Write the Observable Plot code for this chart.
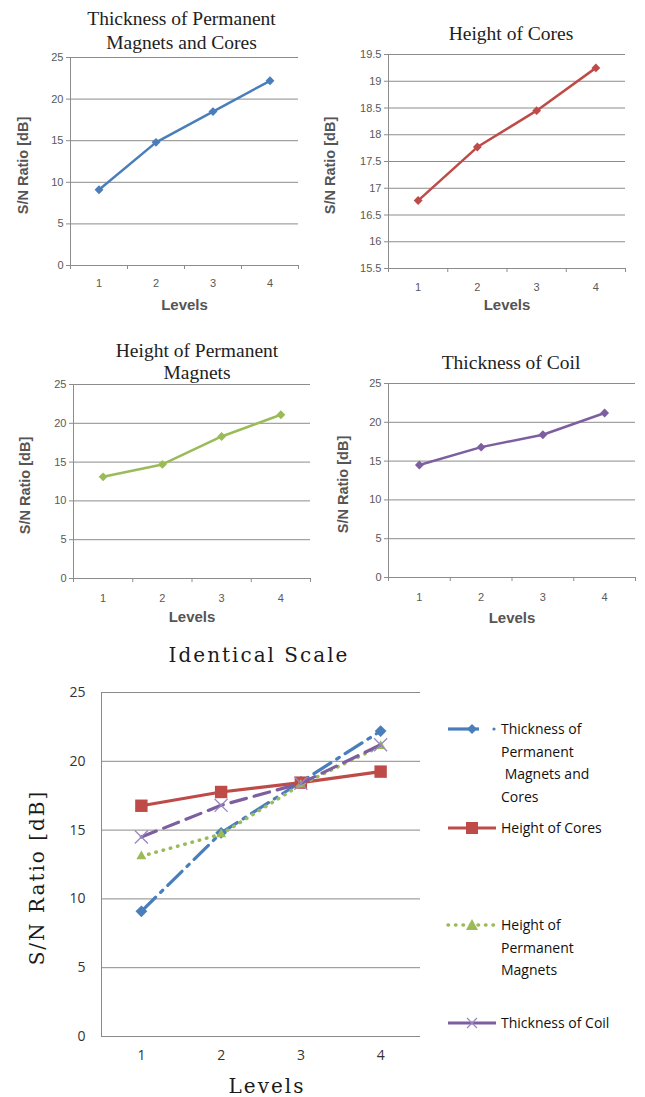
<!DOCTYPE html>
<html><head><meta charset="utf-8">
<script src="https://cdn.jsdelivr.net/npm/d3@7"></script>
<script src="https://cdn.jsdelivr.net/npm/@observablehq/plot@0.6"></script>
<style>
html,body{margin:0;padding:0;background:#fff;}
#page{position:relative;width:645px;height:1097px;overflow:hidden;background:#fff;}
.chart{position:absolute;}
.leg{position:absolute;left:501px;font-family:"Open Sans",sans-serif;font-size:14px;color:#111;line-height:22.5px;white-space:pre;}
.sw{position:absolute;left:446px;}
</style></head><body><div id="page"></div>
<script>
const levels = [1, 2, 3, 4];
const levelBounds = [0.5, 1.5, 2.5, 3.5, 4.5];
const seriesNames = ["Thickness of Permanent Magnets and Cores", "Height of Cores", "Height of Permanent Magnets", "Thickness of Coil"];
const thicknessPMC = [9.1, 14.8, 18.5, 22.2];
const heightCores = [16.77, 17.77, 18.45, 19.25];
const heightPM = [13.1, 14.7, 18.3, 21.1];
const thicknessCoil = [14.5, 16.8, 18.4, 21.2];
const smallTitles = [["Thickness of Permanent", "Magnets and Cores"], ["Height of Cores"], ["Height of Permanent", "Magnets"], ["Thickness of Coil"]];
const ticks025 = [0, 5, 10, 15, 20, 25];
const ticksCores = [15.5, 16, 16.5, 17, 17.5, 18, 18.5, 19, 19.5];
const legendLabels = ["Thickness of\nPermanent\n Magnets and\nCores", "Height of Cores", "Height of\nPermanent\nMagnets", "Thickness of Coil"];
const colors = ["#4A7EBB", "#BE4B48", "#9BBB59", "#7D5FA0"];

const page = document.getElementById("page");
function place(el, left, top) {
  const d = document.createElement("div");
  d.className = "chart";
  d.style.left = left + "px"; d.style.top = top + "px";
  d.appendChild(el); page.appendChild(d);
}
const plain = d => String(d);

function small(values, color, titleLines, yTicks, b) {
  const data = levels.map((l, i) => ({level: l, value: values[i]}));
  const titleMarks = titleLines.map((line, k) =>
    Plot.text([line], {text: d => d, frameAnchor: "top", lineAnchor: "middle", textAnchor: "middle", dx: b.tx, dy: b.td[k],
      fontFamily: "'Liberation Serif', 'Times New Roman', serif", fontSize: 19.5, fill: "#222"}));
  const p = Plot.plot({
    width: b.w, height: b.h,
    marginLeft: b.ml, marginRight: b.mr, marginTop: b.mt, marginBottom: b.mb,
    x: {type: "linear", domain: [0.5, 4.5]},
    y: {domain: [yTicks[0], yTicks[yTicks.length - 1]]},
    style: {background: "transparent", fontFamily: "'Liberation Sans', Arial, sans-serif", fontSize: "11px", color: "#595959", overflow: "visible"},
    marks: [
      Plot.ruleY(yTicks, {stroke: "#8c8c8c", strokeWidth: 1}),
      Plot.ruleX([0.5], {stroke: "#8c8c8c"}),
      Plot.axisY({ticks: yTicks, tickSize: 4, tickPadding: 3, tickFormat: plain, label: null, stroke: "#8c8c8c"}),
      Plot.axisX({ticks: levelBounds, tickSize: 4, tickFormat: () => "", label: null, stroke: "#8c8c8c"}),
      Plot.axisX({ticks: levels, tickSize: 0, tickPadding: b.tp, tickFormat: plain, label: null}),
      Plot.text(["S/N Ratio [dB]"], {text: d => d, frameAnchor: "left", textAnchor: "middle", lineAnchor: "middle", dx: -b.yl, dy: 4, rotate: -90, fontSize: 14.5, fontWeight: "bold", fill: "#555"}),
      Plot.text(["Levels"], {text: d => d, frameAnchor: "bottom", textAnchor: "middle", lineAnchor: "middle", dy: b.xl, fontSize: 15, fontWeight: "bold", fill: "#555"}),
      ...titleMarks,
      Plot.line(data, {x: "level", y: "value", stroke: color, strokeWidth: 2.5}),
      Plot.dot(data, {x: "level", y: "value", symbol: "diamond2", fill: color, r: 4})
    ]
  });
  place(p, b.left, b.top);
}

small(thicknessPMC, colors[0], smallTitles[0], ticks025,
  {left: 0, top: 0, w: 320, h: 320, ml: 70, mr: 22, mt: 57, mb: 55, tp: 14, yl: 47, xl: 40, tx: -3, td: [-39, -15]});
small(heightCores, colors[1], smallTitles[1], ticksCores,
  {left: 320, top: 0, w: 325, h: 320, ml: 68, mr: 20, mt: 54, mb: 52, tp: 15, yl: 58, xl: 37, tx: 4, td: [-21]});
small(heightPM, colors[2], smallTitles[2], ticks025,
  {left: 0, top: 330, w: 320, h: 300, ml: 73, mr: 10, mt: 54, mb: 52, tp: 16, yl: 48, xl: 39, tx: 5, td: [-34, -12]});
small(thicknessCoil, colors[3], smallTitles[3], ticks025,
  {left: 320, top: 330, w: 325, h: 300, ml: 68, mr: 10, mt: 53, mb: 53, tp: 16, yl: 45, xl: 41, tx: -1, td: [-21]});

// combined chart
const seriesValues = [thicknessPMC, heightCores, heightPM, thicknessCoil];
const all = seriesNames.map((name, si) => levels.map((l, i) => ({series: name, level: l, value: seriesValues[si][i]})));
const big = Plot.plot({
  width: 430, height: 457,
  marginLeft: 101, marginRight: 10, marginTop: 52, marginBottom: 61,
  x: {type: "linear", domain: [0.5, 4.5]},
  y: {domain: [0, 25]},
  style: {background: "transparent", fontFamily: "'Open Sans', sans-serif", fontSize: "14px", color: "#333", overflow: "visible"},
  marks: [
    Plot.ruleY(ticks025, {stroke: "#8a8a8a", strokeWidth: 1}),
    Plot.ruleX([0.5], {stroke: "#8a8a8a"}),
    Plot.axisY({ticks: ticks025, tickSize: 0, tickPadding: 16, tickFormat: plain, label: null}),
    Plot.axisX({ticks: levels, tickSize: 0, tickPadding: 14, tickFormat: plain, label: null}),
    Plot.text(["Identical Scale"], {text: d => d, frameAnchor: "top", textAnchor: "middle", lineAnchor: "middle", dx: -2, dy: -37, fontFamily: "'DejaVu Serif', serif", fontSize: 20, fill: "#1a1a1a"}),
    Plot.text(["S/N Ratio [dB]"], {text: d => d, frameAnchor: "left", textAnchor: "middle", lineAnchor: "middle", dx: -64, dy: 13, rotate: -90, fontFamily: "'DejaVu Serif', serif", fontSize: 20, fill: "#1a1a1a"}),
    Plot.text(["Levels"], {text: d => d, frameAnchor: "bottom", textAnchor: "middle", lineAnchor: "middle", dx: 6, dy: 50, fontFamily: "'DejaVu Serif', serif", fontSize: 20, fill: "#1a1a1a"}),
    Plot.line(all[0], {x: "level", y: "value", stroke: colors[0], strokeWidth: 3.2, strokeDasharray: "20,7,3,7"}),
    Plot.dot(all[0], {x: "level", y: "value", symbol: "diamond2", fill: colors[0], r: 5.3}),
    Plot.line(all[1], {x: "level", y: "value", stroke: colors[1], strokeWidth: 3.2}),
    Plot.dot(all[1], {x: "level", y: "value", symbol: "square", fill: colors[1], r: 7}),
    Plot.line(all[2], {x: "level", y: "value", stroke: colors[2], strokeWidth: 3.5, strokeDasharray: "0.5,7", strokeLinecap: "round"}),
    Plot.dot(all[2], {x: "level", y: "value", symbol: "triangle2", fill: colors[2], r: 4.8}),
    Plot.line(all[3], {x: "level", y: "value", stroke: colors[3], strokeWidth: 3.2, strokeDasharray: "16,8"}),
    Plot.dot(all[3], {x: "level", y: "value", symbol: "times", stroke: "#9b87c0", strokeWidth: 1.3, r: 6})
  ]
});
d3.select(big).selectAll("text")
  .filter(function() { return ["Identical Scale", "S/N Ratio [dB]", "Levels"].includes(this.textContent); })
  .style("letter-spacing", "2px");
place(big, 0, 640);

// legend
const legTops = [718, 817, 914, 1012];
const swY = [729, 828, 925, 1023];
legendLabels.forEach((lab, i) => {
  const t = document.createElement("div");
  t.className = "leg"; t.style.top = legTops[i] + "px"; t.textContent = lab;
  page.appendChild(t);
  const ns = "http://www.w3.org/2000/svg";
  const s = document.createElementNS(ns, "svg");
  s.setAttribute("width", 54); s.setAttribute("height", 20);
  s.setAttribute("class", "sw"); s.style.top = (swY[i] - 10) + "px";
  let inner = "";
  const c = colors[i];
  if (i === 0) inner = `<line x1="2" y1="10" x2="33" y2="10" stroke="${c}" stroke-width="3.2"/><circle cx="48" cy="10" r="1.6" fill="${c}"/><path d="M26 5 L31 10 L26 15 L21 10Z" fill="${c}"/>`;
  if (i === 1) inner = `<line x1="2" y1="10" x2="50" y2="10" stroke="${c}" stroke-width="3.2"/><rect x="20" y="4" width="12" height="12" fill="${c}"/>`;
  if (i === 2) inner = `<line x1="2" y1="10" x2="50" y2="10" stroke="${c}" stroke-width="3.5" stroke-dasharray="0.5,7" stroke-linecap="round"/><path d="M26 4 L32 15 L20 15Z" fill="${c}"/>`;
  if (i === 3) inner = `<line x1="2" y1="10" x2="50" y2="10" stroke="${c}" stroke-width="3.2"/><path d="M21 5 L31 15 M31 5 L21 15" stroke="#9b87c0" stroke-width="1.3"/>`;
  s.innerHTML = inner;
  page.appendChild(s);
});
</script></body></html>
